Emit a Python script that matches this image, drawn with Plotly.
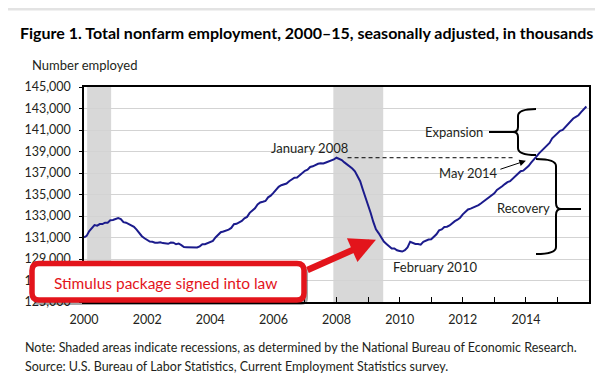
import plotly.graph_objects as go

# ---------------- data (thousands, seasonally adjusted, monthly) ----------------
start_year = 2000
emp_2000 = [131000, 131150, 131600, 131900, 132150, 132100, 132250, 132250, 132380, 132380, 132600, 132630]
emp_2001 = [132750, 132800, 132720, 132430, 132380, 132240, 132170, 132000, 131740, 131440, 131120, 130930]
emp_2002 = [130760, 130620, 130610, 130520, 130510, 130560, 130480, 130480, 130410, 130530, 130520, 130370]
emp_2003 = [130440, 130290, 130110, 130100, 130100, 130090, 130110, 130080, 130180, 130370, 130380, 130480]
emp_2004 = [130630, 130680, 131000, 131250, 131490, 131560, 131615, 131736, 131894, 132239, 132274, 132412]
emp_2005 = [132547, 132787, 132915, 133294, 133465, 133720, 134068, 134253, 134321, 134397, 134737, 134894]
emp_2006 = [135150, 135450, 135720, 135860, 135940, 136020, 136230, 136410, 136560, 136580, 136780, 136950]
emp_2007 = [137200, 137300, 137560, 137620, 137780, 137860, 137910, 137890, 137980, 138060, 138160, 138260]
emp_2008 = [138420, 138300, 138210, 137985, 137803, 137631, 137421, 137162, 136710, 136236, 135471, 134774]
emp_2009 = [133976, 133275, 132449, 131765, 131411, 130944, 130617, 130401, 130202, 129981, 129982, 129809]
emp_2010 = [129750, 129692, 129812, 130070, 130608, 130476, 130404, 130385, 130332, 130597, 130736, 130809]
emp_2011 = [130844, 131057, 131294, 131657, 131753, 131975, 132002, 132122, 132339, 132522, 132657, 132843]
emp_2012 = [133150, 133400, 133610, 133690, 133790, 133860, 134010, 134180, 134360, 134540, 134710, 134920]
emp_2013 = [135110, 135420, 135560, 135760, 135970, 136150, 136240, 136460, 136670, 136900, 137160, 137220]
emp_2014 = [137420, 137650, 137960, 138290, 138530, 138832, 139071, 139286, 139527, 139799, 140222, 140451]
emp_2015 = [140652, 140919, 141003, 141265, 141579, 141816, 142070, 142223, 142372, 142667, 142919, 143190]

recessions = [(2000.1, 2000.86), (2007.9, 2009.48)]
year_ticks = [2000, 2002, 2004, 2006, 2008, 2010, 2012, 2014]
year_labels = [str(y) for y in year_ticks]

employment = (emp_2000 + emp_2001 + emp_2002 + emp_2003 + emp_2004 + emp_2005 + emp_2006 + emp_2007 +
              emp_2008 + emp_2009 + emp_2010 + emp_2011 + emp_2012 + emp_2013 + emp_2014 + emp_2015)
months = [start_year + i / 12 for i in range(len(employment))]
peak_value = max(employment[:120])

# ---------------- layout geometry helpers ----------------
W, H = 603, 373
PL, PR, PT, PB = 76, 581, 79, 294
PW, PH = PR - PL, PB - PT
X0, X1, Y0, Y1 = 2000, 2016, 125000, 145000


def px_x(px):
    return (px - PL) / PW


def px_y(py):
    return (PB - py) / PH


def dx(px):
    return X0 + (px - PL) / PW * (X1 - X0)


def dy(py):
    return Y1 - (py - PT) / PH * (Y1 - Y0)


def dpath(cmds):
    out = []
    for c in cmds:
        if isinstance(c, str):
            out.append(c)
        else:
            out.append(f"{dx(c[0]):.4f},{dy(c[1]):.2f}")
    return " ".join(out)


def ppath(cmds):
    out = []
    for c in cmds:
        if isinstance(c, str):
            out.append(c)
        else:
            out.append(f"{px_x(c[0]):.5f},{px_y(c[1]):.5f}")
    return " ".join(out)


def rounded(x0, y0, x1, y1, r):
    return ppath(["M", (x0 + r, y0), "L", (x1 - r, y0), "Q", (x1, y0), (x1, y0 + r),
                  "L", (x1, y1 - r), "Q", (x1, y1), (x1 - r, y1),
                  "L", (x0 + r, y1), "Q", (x0, y1), (x0, y1 - r),
                  "L", (x0, y0 + r), "Q", (x0, y0), (x0 + r, y0), "Z"])


FONT = "Lato, 'Liberation Sans', sans-serif"
TXT = "#231f20"
RED = "#e3141b"

fig = go.Figure()
fig.add_trace(go.Scatter(x=months, y=employment, mode="lines",
                         line=dict(color="#1b1b8c", width=2), hoverinfo="skip", showlegend=False))

shapes = []
# top grey strip
shapes.append(dict(type="rect", xref="paper", yref="paper", x0=px_x(0), x1=px_x(W), y0=px_y(0), y1=px_y(2.5),
                   fillcolor="#e3e3e3", line=dict(width=0), layer="above"))
for a, b in recessions:
    shapes.append(dict(type="rect", xref="x", yref="paper", x0=a, x1=b, y0=0, y1=1,
                       fillcolor="#d8d8d8", line=dict(width=0), layer="between"))
# dashed line at January 2008 level
shapes.append(dict(type="line", xref="x", yref="y", x0=2008.35, x1=2013.65, y0=peak_value, y1=peak_value,
                   line=dict(color="black", width=1, dash="4px,3px")))
# expansion brace
shapes.append(dict(type="path", xref="x", yref="y", line=dict(color="black", width=2),
                   path=dpath(["M", (528, 101), "Q", (510, 101), (510, 108), "L", (510, 119),
                               "Q", (510, 124), (505, 124), "Q", (510, 124), (510, 129),
                               "L", (510, 140), "Q", (510, 147), (528, 147)])))
shapes.append(dict(type="path", xref="x", yref="y", line=dict(color="black", width=2),
                   path=dpath(["M", (481, 124), "L", (505, 124)])))
# recovery brace
shapes.append(dict(type="path", xref="x", yref="y", line=dict(color="black", width=2),
                   path=dpath(["M", (528, 151), "Q", (548, 151), (548, 158), "L", (548, 195),
                               "Q", (548, 201), (553, 201), "Q", (548, 201), (548, 207),
                               "L", (548, 239), "Q", (548, 246), (528, 246)])))
shapes.append(dict(type="path", xref="x", yref="y", line=dict(color="black", width=2),
                   path=dpath(["M", (553, 201), "L", (573, 201)])))
# stimulus callout box: shadow + box
shapes.append(dict(type="path", xref="paper", yref="paper", layer="above",
                   path=rounded(25, 258, 300, 297, 7), fillcolor="rgba(0,0,0,0.35)", line=dict(width=0)))
shapes.append(dict(type="path", xref="paper", yref="paper", layer="above",
                   path=rounded(24, 255.5, 296, 292, 7), fillcolor="white", line=dict(color=RED, width=5.5)))

annotations = [
    dict(xref="paper", yref="paper", x=px_x(10), y=px_y(24), xanchor="left", yanchor="middle",
         text="<b>Figure 1. Total nonfarm employment, 2000–15, seasonally adjusted, in thousands</b>",
         showarrow=False, font=dict(family=FONT, size=16, color="black")),
    dict(xref="paper", yref="paper", x=px_x(22), y=px_y(57), xanchor="left", yanchor="middle",
         text="Number employed", showarrow=False, font=dict(family=FONT, size=13, color=TXT)),
    dict(xref="paper", yref="paper", x=px_x(15), y=px_y(339), xanchor="left", yanchor="middle",
         text="Note: Shaded areas indicate recessions, as determined by the National Bureau of Economic Research.",
         showarrow=False, font=dict(family=FONT, size=12.5, color=TXT)),
    dict(xref="paper", yref="paper", x=px_x(15), y=px_y(358), xanchor="left", yanchor="middle",
         text="Source: U.S. Bureau of Labor Statistics, Current Employment Statistics survey.",
         showarrow=False, font=dict(family=FONT, size=12.5, color=TXT)),
    dict(x=2007.14, y=139350, text="January 2008", showarrow=False,
         font=dict(family=FONT, size=13, color=TXT)),
    dict(x=2011.12, y=128280, text="February 2010", showarrow=False,
         font=dict(family=FONT, size=13, color=TXT)),
    dict(x=2011.72, y=140840, text="Expansion", showarrow=False,
         font=dict(family=FONT, size=13, color=TXT)),
    dict(x=2013.94, y=133700, text="Recovery", showarrow=False,
         font=dict(family=FONT, size=13, color=TXT)),
    dict(x=2012.17, y=137030, text="May 2014", showarrow=False,
         font=dict(family=FONT, size=13, color=TXT)),
    # May 2014 arrow
    dict(x=2014.0, y=138140, ax=-27, ay=9, text="", showarrow=True, arrowhead=2, arrowsize=1.3,
         arrowwidth=1, arrowcolor="black", standoff=0),
    # red stimulus arrow
    dict(x=2009.25, y=130800, ax=-70, ay=31, text="", showarrow=True, arrowhead=2, arrowsize=0.8,
         arrowwidth=6.5, arrowcolor=RED, standoff=0),
    dict(xref="paper", yref="paper", x=px_x(157), y=px_y(274.5), xanchor="center", yanchor="middle",
         text="Stimulus package signed into law", showarrow=False,
         font=dict(family=FONT, size=15.5, color=RED)),
]

fig.update_layout(
    width=W, height=H,
    margin=dict(l=PL, r=W - PR, t=PT, b=H - PB, pad=0),
    paper_bgcolor="white", plot_bgcolor="white",
    shapes=shapes, annotations=annotations, showlegend=False,
    xaxis=dict(range=[X0, X1], tickmode="array", tickvals=year_ticks, ticktext=year_labels,
               ticks="inside", ticklen=5, tickcolor="black", tickwidth=1,
               minor=dict(dtick=1, tick0=2000, ticks="inside", ticklen=5, tickcolor="black", showgrid=False),
               showgrid=False, showline=True, linecolor="black", linewidth=1.5, mirror=True,
               ticklabelstandoff=5, tickfont=dict(family=FONT, size=12.5, color=TXT), zeroline=False),
    yaxis=dict(range=[Y0, Y1], tick0=Y0, dtick=2000, tickformat=",",
               ticks="outside", ticklen=3, tickcolor="black",
               showgrid=True, gridcolor="#d3d3d3", gridwidth=1,
               showline=True, linecolor="black", linewidth=1.5, mirror=True,
               ticklabelstandoff=6, tickfont=dict(family=FONT, size=12.5, color=TXT), zeroline=False),
)

fig.write_html("out.html")
